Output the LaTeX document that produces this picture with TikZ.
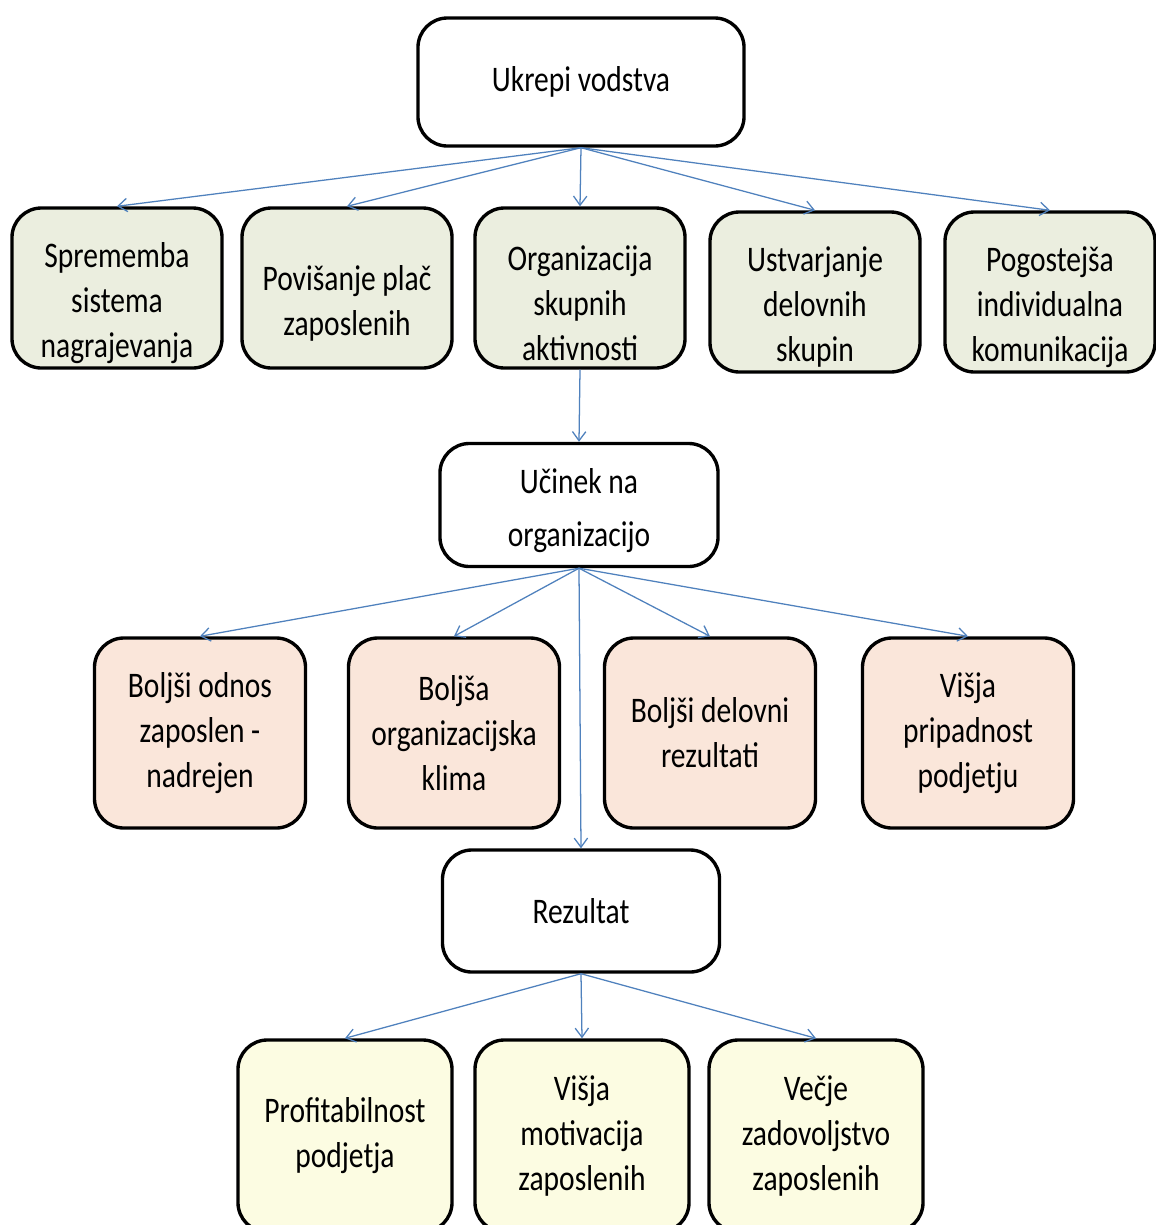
\documentclass[tikz,border=0pt]{standalone}
\usepackage{fontspec}
\setmainfont[FakeStretch=0.82]{Carlito}
\usetikzlibrary{arrows.meta}

\definecolor{linkblue}{RGB}{79,129,189}
\definecolor{actionfill}{RGB}{235,238,223}
\definecolor{effectfill}{RGB}{250,230,218}
\definecolor{resultfill}{RGB}{252,252,226}

\tikzset{
  textset/.style={align=center, inner sep=0pt, font=\fontsize{25.6}{32}\selectfont},
  card/.style={textset, draw=black, line width=2.4pt, rounded corners=21pt},
  headbox/.style={card, fill=white},
  actionbox/.style={card, fill=actionfill, minimum width=5.25cm, minimum height=4cm},
  % the measures' wording sits a little below the middle of its box
  actiontext/.style={textset, yshift=-11pt},
  effectbox/.style={card, fill=effectfill, minimum width=5.275cm, minimum height=4.75cm},
  resultbox/.style={card, fill=resultfill, minimum width=5.35cm, minimum height=4.8cm},
  link/.style={draw=linkblue, line width=0.9pt, -{Straight Barb[length=6.5pt,width=9.5pt]}}
}

\begin{document}
\begin{tikzpicture}[x=0.025cm, y=-0.025cm]
\useasboundingbox (0,0) rectangle (1156,1225);
\clip (0,0) rectangle (1156,1225);
\fill[white] (0,0) rectangle (1156,1225);

% leadership measures
\node[headbox, minimum width=8.15cm, minimum height=3.2cm] (lead) at (581,82) {Ukrepi vodstva};
\node[actionbox] (a1) at (117,288) {};
\node[actionbox] (a2) at (347,288) {};
\node[actionbox] (a3) at (580,288) {};
\node[actionbox] (a4) at (815,292) {};
\node[actionbox] (a5) at (1050,292) {};
\node[actiontext] (a1t) at (a1.center) {Sprememba\\sistema\\nagrajevanja};
\node[actiontext] (a2t) at (a2.center) {Povišanje plač\\zaposlenih};
\node[actiontext] (a3t) at (a3.center) {Organizacija\\skupnih\\aktivnosti};
\node[actiontext] (a4t) at (a4.center) {Ustvarjanje\\delovnih\\skupin};
\node[actiontext] (a5t) at (a5.center) {Pogostejša\\individualna\\komunikacija};

% effect on the organisation
\node[headbox, minimum width=6.95cm, minimum height=3.075cm] (effect) at (579,505) {};
\node[textset, font=\fontsize{25.6}{38}\selectfont, yshift=-4pt] (effectt) at (effect.center) {Učinek na\\organizacijo};
\node[effectbox] (e1) at (200,733) {Boljši odnos\\zaposlen -\\nadrejen};
\node[effectbox] (e2) at (454,733) {Boljša\\organizacijska\\klima};
\node[effectbox] (e3) at (710,733) {Boljši delovni\\rezultati};
\node[effectbox] (e4) at (968,733) {Višja\\pripadnost\\podjetju};

% outcome
\node[headbox, minimum width=6.925cm, minimum height=3.05cm] (result) at (581,911) {Rezultat};
\node[resultbox] (r1) at (345,1136) {Profitabilnost\\podjetja};
\node[resultbox] (r2) at (582,1136) {Višja\\motivacija\\zaposlenih};
\node[resultbox] (r3) at (816,1136) {Večje\\zadovoljstvo\\zaposlenih};

% connectors
\foreach \n in {a1,a2,a3,a4,a5} \draw[link] (lead.south) -- (\n.north);
\draw[link] (a3.south) -- (effect.north);
\foreach \n in {e1,e2,e3,e4} \draw[link] (effect.south) -- (\n.north);
\draw[link] (effect.south) -- (result.north);
\foreach \n in {r1,r2,r3} \draw[link] (result.south) -- (\n.north);
\end{tikzpicture}
\end{document}
